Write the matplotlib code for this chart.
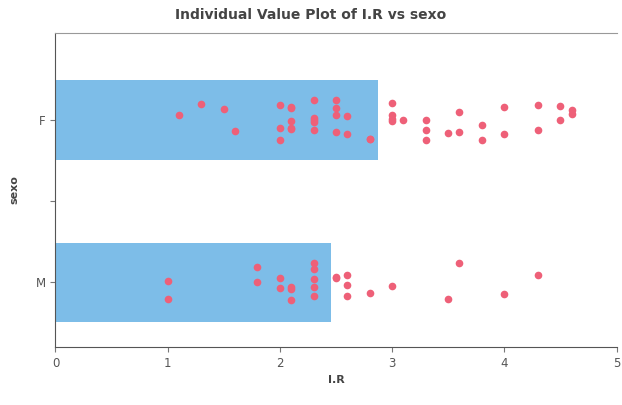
import numpy as np
import matplotlib.pyplot as plt

# I.R values
ir_f = [1.1, 1.3, 1.5, 1.6, 2.0, 2.0, 2.0, 2.1, 2.1, 2.1, 2.1, 2.1,
        2.3, 2.3, 2.3, 2.3, 2.3, 2.5, 2.5, 2.5, 2.5, 2.6, 2.6, 2.8, 2.8,
        3.0, 3.0, 3.0, 3.0, 3.1, 3.3, 3.3, 3.3, 3.5, 3.6, 3.6, 3.8, 3.8,
        4.0, 4.0, 4.3, 4.3, 4.5, 4.5, 4.6, 4.6]
ir_m = [1.0, 1.0, 1.8, 1.8, 2.0, 2.0, 2.1, 2.1, 2.1, 2.3, 2.3, 2.3, 2.3, 2.3,
        2.5, 2.5, 2.6, 2.6, 2.6, 2.8, 3.0, 3.5, 3.6, 4.0, 4.3]
groups = ['F', 'M']
ytick_labels = ['M', '', 'F']

fig = plt.figure(figsize=(6.22, 4.05), dpi=100)
ax = fig.add_axes([0.0892, 0.143, 0.902, 0.7755])

bar_color = '#7dbde8'
dot_color = '#ee6078'
ypos = {'F': 2, 'M': 1}
rng = np.random.default_rng(7)

for g, vals in zip(groups, [ir_f, ir_m]):
    y0 = ypos[g]
    # bar length = group mean
    ax.barh(y0, np.mean(vals), height=0.49, color=bar_color, edgecolor='none', zorder=1)
    jit = rng.uniform(-0.125, 0.125, len(vals))
    ax.plot(vals, y0 + jit, 'o', color=dot_color, markersize=5.5, markeredgewidth=0, zorder=3)

ax.set_xlim(0, 5)
ax.set_ylim(0.6, 2.537)
ax.set_xticks([0, 1, 2, 3, 4, 5])
ax.set_yticks([1, 1.5, 2])
ax.set_yticklabels(ytick_labels)
ax.tick_params(colors='#777777', labelcolor='#555555', labelsize=8.5, length=3.5)

for s in ['left', 'bottom']:
    ax.spines[s].set_color('#555555')
ax.spines['top'].set_color('#999999')
ax.spines['right'].set_visible(False)

fig.text(0.5, 1 - 15 / 405, 'Individual Value Plot of I.R vs sexo', fontsize=10, fontweight='bold',
         color='#444444', ha='center', va='center')
ax.set_xlabel('I.R', fontsize=8, fontweight='bold', color='#444444', labelpad=4)
ax.set_ylabel('sexo', fontsize=8, fontweight='bold', color='#444444', labelpad=12)

fig.savefig('out.png', dpi=100)
